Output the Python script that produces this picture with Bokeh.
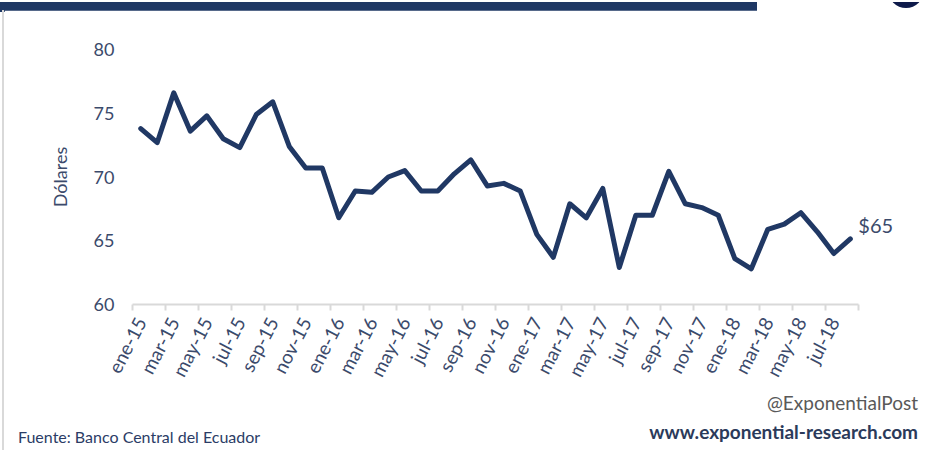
from bokeh.plotting import figure
from bokeh.models import FixedTicker, Label, Range1d, Div
from bokeh.layouts import column, row
from bokeh.embed import file_html
from bokeh.resources import INLINE

# ---- data ----
month_names = ["ene", "feb", "mar", "abr", "may", "jun",
               "jul", "ago", "sep", "oct", "nov", "dic"]
year_labels = ["15", "16", "17", "18"]
dates = [f"{m}-{y}" for y in year_labels for m in month_names][:44]

values = [73.8, 72.7, 76.6, 73.6, 74.8, 73.0, 72.3, 74.9, 75.9, 72.4,
          70.7, 70.7, 66.8, 68.9, 68.8, 70.0, 70.5, 68.9, 68.9, 70.25,
          71.35, 69.3, 69.5, 68.9, 65.5, 63.7, 67.9, 66.8, 69.1, 62.9,
          67.0, 67.0, 70.45, 67.9, 67.6, 67.0, 63.6, 62.8, 65.9, 66.3,
          67.2, 65.7, 64.0, 65.15]

y_ticks = [60, 65, 70, 75, 80]

source_text = "Fuente: Banco Central del Ecuador"
handle_text = "@ExponentialPost"
site_text = "www.exponential-research.com"

# ---- styles ----
FONT = "Lato"
NAVY = "#203864"
TEXT = "#3B4A6B"
GRAY = "#D9D9D9"

n = len(values)
xs = list(range(n))

FIG_W, FIG_H = 916, 380

p = figure(width=FIG_W, height=FIG_H, output_backend="svg", toolbar_location=None,
           x_range=Range1d(-0.5, n - 0.5 + 3.45), y_range=Range1d(60, 80),
           min_border_left=128, min_border_right=5, min_border_top=39,
           min_border_bottom=86, margin=0)
p.outline_line_color = None
p.xgrid.visible = False
p.ygrid.visible = False
p.background_fill_color = "white"
p.border_fill_color = "white"

p.line(xs, values, line_color=NAVY, line_width=5, line_join="round", line_cap="round")

# x axis
xa = p.xaxis[0]
xa.bounds = (-0.5, n - 0.5)
xa.ticker = FixedTicker(ticks=list(range(0, n, 2)),
                        minor_ticks=[i - 0.5 for i in range(0, n + 1, 2)])
xa.major_label_overrides = {i: dates[i] for i in range(0, n, 2)}
xa.major_label_orientation = 1.09
xa.major_tick_line_color = None
xa.major_tick_out = 0
xa.minor_tick_line_color = GRAY
xa.minor_tick_line_width = 2
xa.minor_tick_out = 6
xa.minor_tick_in = 0
xa.axis_line_color = GRAY
xa.axis_line_width = 2
xa.major_label_standoff = 8
xa.major_label_text_font = FONT
xa.major_label_text_font_size = "19px"
xa.major_label_text_color = TEXT

# y axis
ya = p.yaxis[0]
ya.ticker = FixedTicker(ticks=y_ticks)
ya.axis_line_color = None
ya.major_tick_line_color = None
ya.minor_tick_line_color = None
ya.major_tick_out = 0
ya.major_label_standoff = 18
ya.major_label_text_font = FONT
ya.major_label_text_font_size = "18px"
ya.major_label_text_color = TEXT
ya.axis_label = "Dólares"
ya.axis_label_text_font = FONT
ya.axis_label_text_font_style = "normal"
ya.axis_label_text_font_size = "18px"
ya.axis_label_text_color = TEXT
ya.axis_label_standoff = 20

# end value label
p.add_layout(Label(x=xs[-1], y=values[-1], text=f"${round(values[-1])}",
                   x_offset=8, y_offset=14, text_baseline="middle",
                   text_font=FONT, text_font_size="20px", text_color=TEXT))

# ---- decorations (HTML) ----
top = Div(width=920, height=10, margin=0, text=(
    '<div style="position:relative;width:920px;height:10px;overflow:hidden">'
    '<div style="position:absolute;left:0;top:0;width:757px;height:10px;background:#1F3864"></div>'
    '<div style="position:absolute;left:888px;top:-30px;width:36px;height:36px;'
    'border-radius:50%;background:#0E1A4A"></div></div>'))

side = Div(width=4, height=FIG_H, margin=0, text=(
    f'<div style="margin-left:2px;width:2px;height:{FIG_H}px;background:{GRAY}"></div>'))

FOOT_H = 60
footer = Div(width=920, height=FOOT_H, margin=0, text=(
    f'<div style="position:relative;width:920px;height:{FOOT_H}px;font-family:Lato;white-space:nowrap">'
    f'<div style="position:absolute;left:2px;top:0;width:2px;height:{FOOT_H}px;background:{GRAY}"></div>'
    f'<div style="position:absolute;left:18px;top:37px;font-size:16px;line-height:20px;color:#2B3C66">{source_text}</div>'
    f'<div style="position:absolute;right:2px;top:1px;font-size:19px;line-height:24px;color:#595959">{handle_text}</div>'
    f'<div style="position:absolute;right:2px;top:30px;font-size:19px;line-height:24px;font-weight:bold;color:#2B3A5A">{site_text}</div>'
    '</div>'))

layout = column(top, row(side, p, spacing=0, margin=0), footer, spacing=0, margin=0)

open("out.html", "w").write(file_html(layout, INLINE))
